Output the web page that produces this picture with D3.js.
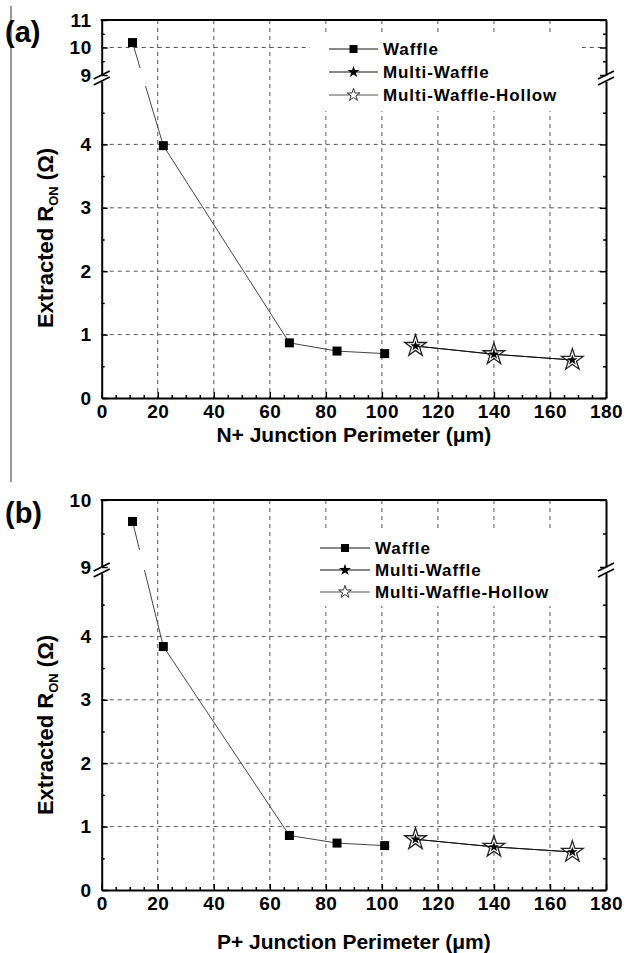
<!DOCTYPE html>
<html>
<head>
<meta charset="utf-8">
<script src="https://cdn.jsdelivr.net/npm/d3@7"></script>
<style>
    body { margin: 0; background: #fff; }
    svg { display: block; font-family: "Liberation Sans", Arial, sans-serif; font-weight: bold; }
    .domain { stroke: #000; stroke-width: 2px; }
    .tick line { stroke: #000; stroke-width: 1.5px; }
</style>
</head>
<body>
<svg id="grafico" width="626" height="953"></svg>
<script>

// Valores.
const perimetroWaffle = [11, 22, 67, 84, 101];
const perimetroMulti = [112, 140, 168];

const ronWaffleN = [10.18, 3.98, 0.87, 0.74, 0.70];
const ronMultiN = [0.82, 0.69, 0.60];
const ronHollowN = [0.82, 0.69, 0.60];

const ronWaffleP = [9.68, 3.84, 0.86, 0.74, 0.70];
const ronMultiP = [0.80, 0.68, 0.60];
const ronHollowP = [0.80, 0.68, 0.60];

const ticksX = [0, 20, 40, 60, 80, 100, 120, 140, 160, 180];
const ticksYBaixo = [0, 1, 2, 3, 4];
const ticksYCimaN = [9, 10, 11];
const ticksYCimaP = [9, 10];
const legendas = ['Waffle', 'Multi-Waffle', 'Multi-Waffle-Hollow'];

// Layout dos dois painéis.
const xEsq = 101.7, xDir = 606;

const paineis = [
    {
        letra: '(a)', letraY: 42,
        topo: 20, quebraCima: 75, quebraBaixo: 81, base: 398,
        dominioCima: [9, 11], ticksCima: ticksYCimaN, gradeCima: [10],
        falha: [68, 86],
        tituloX: 'N+ Junction Perimeter (\u03bcm)', tituloXY: 442, tituloYCentro: 238,
        caixaLegenda: { x: 310, y: 33, w: 272, h: 78 },
        linhasLegenda: [49, 72, 95], legendaX: [329, 378], legendaTextoX: 383,
        waffle: ronWaffleN, multi: ronMultiN, hollow: ronHollowN
    },
    {
        letra: '(b)', letraY: 523,
        topo: 500, quebraCima: 567, quebraBaixo: 573, base: 890,
        dominioCima: [9, 10], ticksCima: ticksYCimaP, gradeCima: [],
        falha: [550, 570],
        tituloX: 'P+ Junction Perimeter (\u03bcm)', tituloXY: 949, tituloYCentro: 725,
        caixaLegenda: { x: 305, y: 530, w: 277, h: 76 },
        linhasLegenda: [548, 570, 592], legendaX: [320, 370], legendaTextoX: 375,
        waffle: ronWaffleP, multi: ronMultiP, hollow: ronHollowP
    }
];

const svg = d3.select('#grafico');

// Linha vertical solta na margem esquerda da figura.
svg.append('line')
    .attr('x1', 11).attr('x2', 11).attr('y1', 6).attr('y2', 482)
    .attr('stroke', '#333').attr('stroke-width', 1);

paineis.forEach(p => desenharPainel(p));

function desenharPainel(p) {

    const x = d3.scaleLinear().domain([0, 180]).range([xEsq, xDir]);
    const yBaixo = d3.scaleLinear().domain([0, 5]).range([p.base, p.quebraBaixo]);
    const yCima = d3.scaleLinear().domain(p.dominioCima).range([p.quebraCima, p.topo]);
    const y = v => v >= 9 ? yCima(v) : yBaixo(v);
    const inteiro = d3.format('d');

    const g = svg.append('g');

    // Grade tracejada.
    g.selectAll('.gradeV')
        .data(ticksX.slice(1, -1))
        .enter().append('line')
        .attr('x1', d => x(d)).attr('x2', d => x(d))
        .attr('y1', p.topo).attr('y2', p.base)
        .attr('stroke', '#555').attr('stroke-width', 1).attr('stroke-dasharray', '4,4');

    const gradeH = ticksYBaixo.slice(1).map(yBaixo).concat(p.gradeCima.map(yCima));
    g.selectAll('.gradeH')
        .data(gradeH)
        .enter().append('line')
        .attr('x1', xEsq).attr('x2', xDir)
        .attr('y1', d => d).attr('y2', d => d)
        .attr('stroke', '#555').attr('stroke-width', 1).attr('stroke-dasharray', '4,4');

    // Fundo branco da legenda.
    const c = p.caixaLegenda;
    g.append('rect')
        .attr('x', c.x).attr('y', c.y).attr('width', c.w).attr('height', c.h)
        .attr('fill', '#fff');

    // Série Waffle, com a falha na linha onde o eixo é quebrado.
    const pontosWaffle = perimetroWaffle.map((d, i) => [x(d), y(p.waffle[i])]);
    const [a, b] = pontosWaffle;
    const noY = yy => {
        const t = (yy - a[1]) / (b[1] - a[1]);
        return [a[0] + t * (b[0] - a[0]), yy];
    };
    const caminhoWaffle = [a, noY(p.falha[0]), null, noY(p.falha[1])].concat(pontosWaffle.slice(1));

    const linha = d3.line().defined(d => d);

    g.append('path')
        .attr('d', linha(caminhoWaffle))
        .attr('fill', 'none').attr('stroke', '#444').attr('stroke-width', 1);

    const pontosMulti = perimetroMulti.map((d, i) => [x(d), y(p.multi[i])]);
    const pontosHollow = perimetroMulti.map((d, i) => [x(d), y(p.hollow[i])]);

    g.append('path')
        .attr('d', linha(pontosHollow))
        .attr('fill', 'none').attr('stroke', '#333').attr('stroke-width', 1);
    g.append('path')
        .attr('d', linha(pontosMulti))
        .attr('fill', 'none').attr('stroke', '#111').attr('stroke-width', 1);

    g.selectAll('.quadrado')
        .data(pontosWaffle)
        .enter().append('path')
        .attr('transform', d => `translate(${d[0]},${d[1]})`)
        .attr('d', d3.symbol(d3.symbolSquare, 81)())
        .attr('fill', '#000');

    g.selectAll('.estrelaVazia')
        .data(pontosHollow)
        .enter().append('path')
        .attr('transform', d => `translate(${d[0]},${d[1]})`)
        .attr('d', d3.symbol(d3.symbolStar, 145)())
        .attr('fill', 'none').attr('stroke', '#222').attr('stroke-width', 1.3);

    g.selectAll('.estrela')
        .data(pontosMulti)
        .enter().append('path')
        .attr('transform', d => `translate(${d[0]},${d[1]})`)
        .attr('d', d3.symbol(d3.symbolStar, 34)())
        .attr('fill', '#000');

    // Eixos.
    const minorX = d3.range(5, 180, 5).filter(d => d % 20 !== 0);

    g.append('g')
        .attr('transform', `translate(0,${p.base})`)
        .call(d3.axisBottom(x).tickValues(ticksX).tickFormat(inteiro)
            .tickSizeInner(-6).tickSizeOuter(0).tickPadding(7));
    g.append('g')
        .attr('transform', `translate(0,${p.base})`)
        .call(d3.axisBottom(x).tickValues(minorX).tickSize(-3).tickFormat(''))
        .select('.domain').remove();

    const minorBaixo = [0.5, 1.5, 2.5, 3.5, 4.5];
    const minorCima = p.ticksCima.slice(1).map(d => d - 0.5);

    g.append('g')
        .attr('transform', `translate(${xEsq},0)`)
        .call(d3.axisLeft(yBaixo).tickValues(ticksYBaixo).tickFormat(inteiro)
            .tickSizeInner(-6).tickSizeOuter(0).tickPadding(10));
    g.append('g')
        .attr('transform', `translate(${xEsq},0)`)
        .call(d3.axisLeft(yCima).tickValues(p.ticksCima).tickFormat(inteiro)
            .tickSizeInner(-6).tickSizeOuter(0).tickPadding(10));
    g.append('g')
        .attr('transform', `translate(${xEsq},0)`)
        .call(d3.axisLeft(yBaixo).tickValues(minorBaixo).tickSize(-3).tickFormat(''))
        .select('.domain').remove();
    g.append('g')
        .attr('transform', `translate(${xEsq},0)`)
        .call(d3.axisLeft(yCima).tickValues(minorCima).tickSize(-3).tickFormat(''))
        .select('.domain').remove();

    g.append('g')
        .attr('transform', `translate(${xDir},0)`)
        .call(d3.axisRight(yBaixo).tickValues(ticksYBaixo).tickSizeInner(-6).tickSizeOuter(0).tickFormat(''));
    g.append('g')
        .attr('transform', `translate(${xDir},0)`)
        .call(d3.axisRight(yCima).tickValues(p.ticksCima).tickSizeInner(-6).tickSizeOuter(0).tickFormat(''));
    g.append('g')
        .attr('transform', `translate(${xDir},0)`)
        .call(d3.axisRight(yBaixo).tickValues(minorBaixo).tickSize(-3).tickFormat(''))
        .select('.domain').remove();
    g.append('g')
        .attr('transform', `translate(${xDir},0)`)
        .call(d3.axisRight(yCima).tickValues(minorCima).tickSize(-3).tickFormat(''))
        .select('.domain').remove();

    // Borda superior.
    g.append('line')
        .attr('x1', xEsq - 1).attr('x2', xDir + 1)
        .attr('y1', p.topo).attr('y2', p.topo)
        .attr('stroke', '#000').attr('stroke-width', 2);

    g.selectAll('.tick text')
        .attr('fill', '#000')
        .style('font-size', '19px')
        .style('letter-spacing', '0.5px')
        .style('font-family', '"Liberation Sans", Arial, sans-serif')
        .style('font-weight', 'bold');

    // Marcas de quebra do eixo (duas barras inclinadas).
    [xEsq, xDir].forEach(xx => {
        [p.quebraCima, p.quebraBaixo].forEach(yy => {
            g.append('line')
                .attr('x1', xx - 8).attr('y1', yy + 4)
                .attr('x2', xx + 8).attr('y2', yy - 4)
                .attr('stroke', '#000').attr('stroke-width', 1.6);
        });
    });

    // Títulos.
    g.append('text')
        .attr('x', (xEsq + xDir) / 2).attr('y', p.tituloXY)
        .attr('text-anchor', 'middle')
        .style('font-size', '21px')
        .text(p.tituloX);

    const tituloY = g.append('text')
        .attr('transform', `translate(53,${p.tituloYCentro}) rotate(-90)`)
        .attr('text-anchor', 'middle')
        .style('font-size', '22px');
    tituloY.append('tspan').text('Extracted R');
    tituloY.append('tspan').attr('dy', 5).style('font-size', '13px').text('ON');
    tituloY.append('tspan').attr('dy', -5).text(' (\u03a9)');

    g.append('text')
        .attr('x', 5).attr('y', p.letraY)
        .style('font-size', '29px')
        .text(p.letra);

    // Legenda.
    const [lx1, lx2] = p.legendaX;
    const lm = (lx1 + lx2) / 2;
    legendas.forEach((nome, i) => {
        const ly = p.linhasLegenda[i];
        g.append('line')
            .attr('x1', lx1).attr('x2', lx2).attr('y1', ly).attr('y2', ly)
            .attr('stroke', i === 2 ? '#555' : '#111').attr('stroke-width', 1);
        const simbolo = g.append('path')
            .attr('transform', `translate(${lm},${ly})`);
        if (i === 0) {
            simbolo.attr('d', d3.symbol(d3.symbolSquare, 64)()).attr('fill', '#000');
        } else if (i === 1) {
            simbolo.attr('d', d3.symbol(d3.symbolStar, 45)()).attr('fill', '#000');
        } else {
            simbolo.attr('d', d3.symbol(d3.symbolStar, 50)()).attr('fill', '#fff')
                .attr('stroke', '#333').attr('stroke-width', 1);
        }
        g.append('text')
            .attr('x', p.legendaTextoX).attr('y', ly + 6)
            .style('font-size', '17px')
            .style('letter-spacing', '0.9px')
            .text(nome);
    });
}
</script>
</body>
</html>
